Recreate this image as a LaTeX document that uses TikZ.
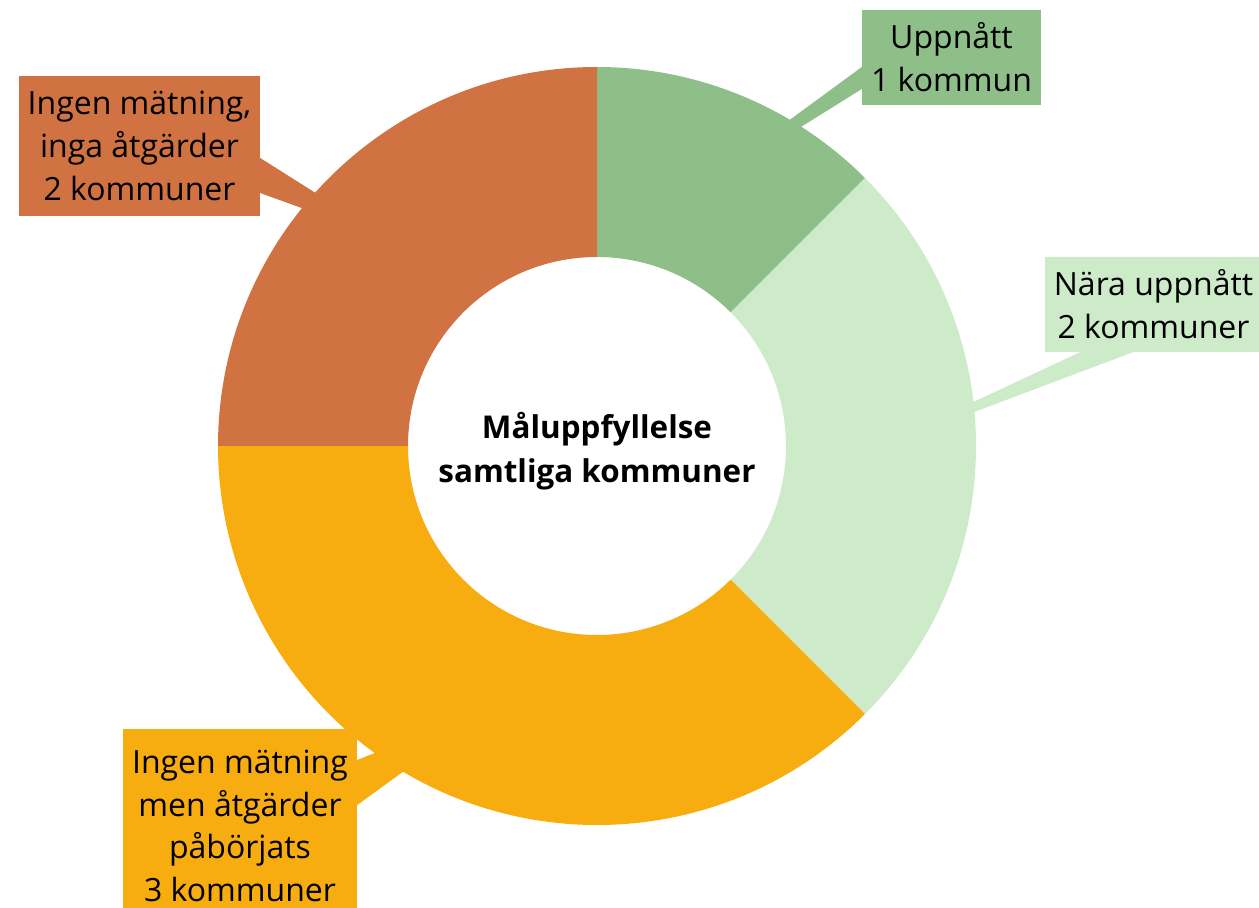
\documentclass[tikz,border=0pt]{standalone}
\usepackage{fontspec}
\setmainfont{Open Sans}
\usetikzlibrary{calc}
\definecolor{gdark}{HTML}{8FBF88}
\definecolor{glight}{HTML}{CDEAC9}
\definecolor{orng}{HTML}{F7AC10}
\definecolor{brwn}{HTML}{D07242}
\begin{document}
\begin{tikzpicture}[x=1pt,y=1pt,
  lab/.style={inner sep=0pt, align=center, font=\fontsize{32}{42.8}\selectfont, text=black}]
\useasboundingbox (0,0) rectangle (1259,908);
\coordinate (C) at (597,462);
% donut segments
\fill[gdark] ($(C)+(90:379pt)$) arc[start angle=90, end angle=45, radius=379pt]
  -- ($(C)+(45:189pt)$) arc[start angle=45, end angle=90, radius=189pt] -- cycle;
\fill[glight] ($(C)+(45:379pt)$) arc[start angle=45, end angle=-45, radius=379pt]
  -- ($(C)+(-45:189pt)$) arc[start angle=-45, end angle=45, radius=189pt] -- cycle;
\fill[orng] ($(C)+(-45:379pt)$) arc[start angle=-45, end angle=-180, radius=379pt]
  -- ($(C)+(-180:189pt)$) arc[start angle=-180, end angle=-45, radius=189pt] -- cycle;
\fill[brwn] ($(C)+(180:379pt)$) arc[start angle=180, end angle=90, radius=379pt]
  -- ($(C)+(90:189pt)$) arc[start angle=90, end angle=180, radius=189pt] -- cycle;
% label boxes
\node[lab, fill=gdark, minimum width=179pt, minimum height=95pt] (u) at (951.5,850.5) {\raisebox{-4pt}[\height][\depth]{\begin{tabular}{@{}c@{}}Uppnått\\1 kommun\end{tabular}}};
\node[lab, fill=glight, minimum width=217pt, minimum height=95pt] (n) at (1153.5,603.5) {Nära uppnått\\2 kommuner};
\node[lab, fill=brwn, minimum width=241pt, minimum height=140pt] (b) at (139.5,762) {Ingen mätning,\\inga åtgärder\\2 kommuner};
\node[lab, fill=orng, minimum width=234pt, minimum height=194pt] (o) at (240,82) {Ingen mätning\\men åtgärder\\påbörjats\\3 kommuner};
% callout tips
\coordinate (tu) at (660,693);
\coordinate (tn) at (860,453);
\coordinate (tb) at (390,668);
\coordinate (to) at (495,203);
% callouts
\fill[gdark] ([yshift=-9.5pt]u.west) -- ([yshift=-31.5pt]u.west) -- (tu) -- cycle;
\fill[glight] ([xshift=-73.5pt]n.south) -- ([xshift=-20.5pt]n.south) -- (tn) -- cycle;
\fill[brwn] ([yshift=-12pt]b.east) -- ([yshift=-47pt]b.east) -- (tb) -- cycle;
\fill[orng] ([yshift=66pt]o.east) -- ([yshift=21pt]o.east) -- (to) -- cycle;
% centre title
\node[inner sep=0pt, align=center, font=\fontsize{31.4}{43.3}\selectfont\bfseries] (t) at (597,457) {Måluppfyllelse\\samtliga kommuner};
\end{tikzpicture}
\end{document}
